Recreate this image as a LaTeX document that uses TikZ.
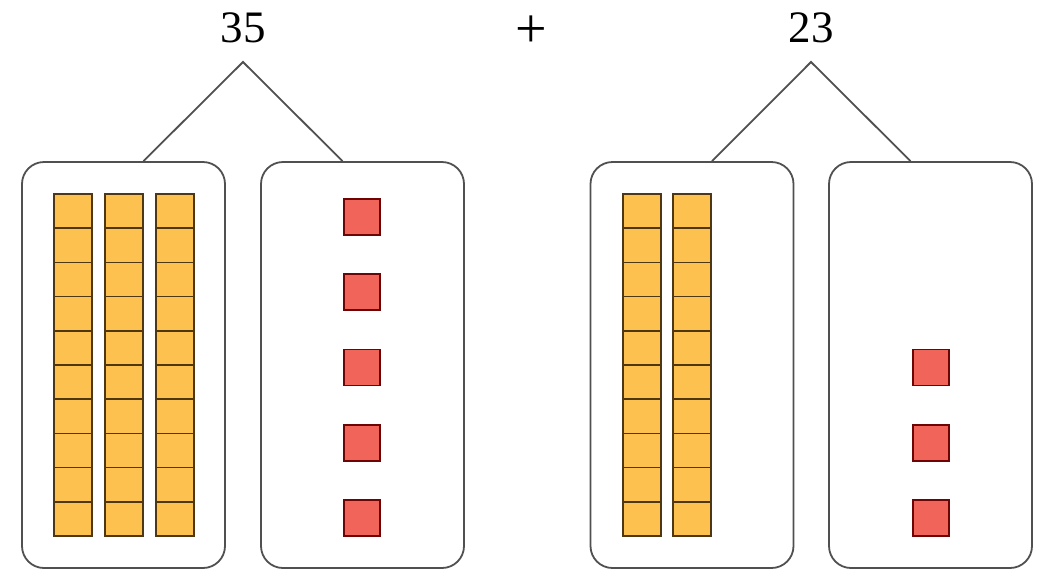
\documentclass[tikz,border=0pt]{standalone}
\usepackage{fontspec}
\setmainfont{Liberation Serif}
\usetikzlibrary{calc}
\definecolor{rodfill}{RGB}{253,193,80}
\definecolor{roddraw}{RGB}{80,55,20}
\definecolor{unitfill}{RGB}{240,100,90}
\definecolor{unitdraw}{RGB}{110,5,5}
\definecolor{boxdraw}{RGB}{80,80,80}
\begin{document}
\begin{tikzpicture}[x=1pt,y=-1pt,
  grp/.style={draw=boxdraw,line width=1.8pt,rounded corners=22pt,minimum width=203pt,minimum height=406pt,inner sep=0pt},
  cell/.style={fill=rodfill,draw=roddraw,line width=1.7pt},
  unit/.style={fill=unitfill,draw=unitdraw,line width=1.7pt},
  num/.style={font=\fontsize{45}{50}\selectfont,inner sep=0pt}]
\useasboundingbox (0,0) rectangle (1043,571);
\node[num] (n35) at (243,28) {35};
\node[num,font=\fontsize{56}{60}\selectfont] (plus) at (531,32) {+};
\node[num] (n23) at (811,28) {23};
\coordinate (top35) at (243,62);
\coordinate (top23) at (811,62);
\node[grp] (tens1) at (123.5,365) {};
\node[grp] (ones1) at (362.5,365) {};
\node[grp] (tens2) at (692,365) {};
\node[grp] (ones2) at (930.5,365) {};
\draw[boxdraw,line width=1.8pt] ($(tens1.north)+(20,0)$) -- (top35) -- ($(ones1.north)+(-20,0)$);
\draw[boxdraw,line width=1.8pt] ($(tens2.north)+(20,0)$) -- (top23) -- ($(ones2.north)+(-20,0)$);
\foreach \x in {54,105,156}
  \foreach \i in {0,...,9}
    {\draw[cell] (\x,194+\i*34.2) rectangle +(38,34.2);}
\foreach \x in {623,673}
  \foreach \i in {0,...,9}
    {\draw[cell] (\x,194+\i*34.2) rectangle +(38,34.2);}
\foreach \i in {0,...,4}
  {\draw[unit] (344,199+\i*75.25) rectangle +(36,36);}
\foreach \i in {2,...,4}
  {\draw[unit] (913,199+\i*75.25) rectangle +(36,36);}
\end{tikzpicture}
\end{document}
